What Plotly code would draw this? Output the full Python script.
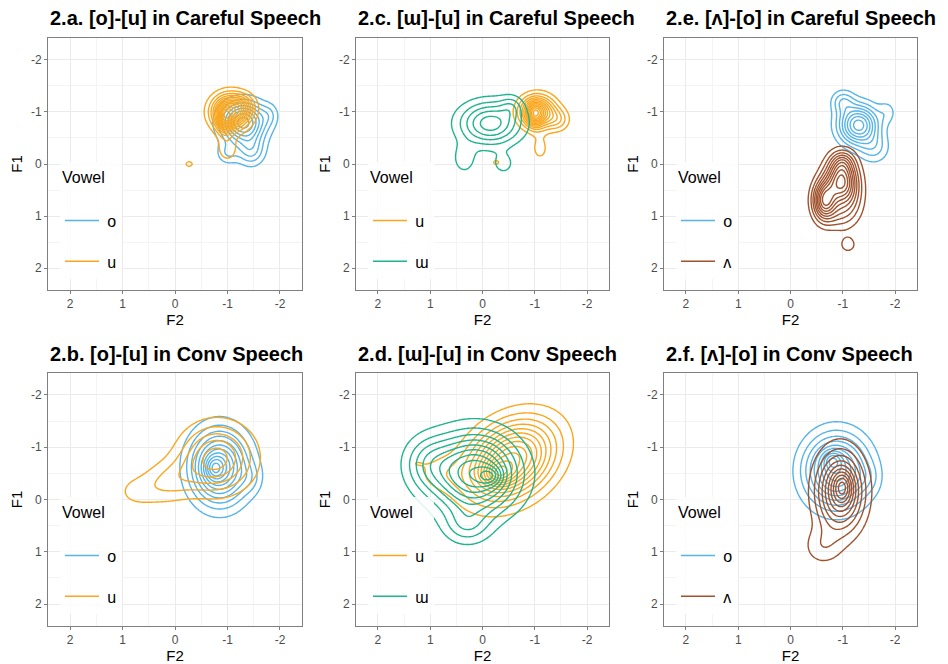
import numpy as np
import plotly.graph_objects as go

# ---------------- data ----------------
panel_titles = ["2.a. [o]-[u] in Careful Speech", "2.c. [ɯ]-[u] in Careful Speech",
                "2.e. [ʌ]-[o] in Careful Speech", "2.b. [o]-[u] in Conv Speech",
                "2.d. [ɯ]-[u] in Conv Speech", "2.f. [ʌ]-[o] in Conv Speech"]
panel_vowels = [["o", "u"], ["u", "ɯ"], ["o", "ʌ"], ["o", "u"], ["u", "ɯ"], ["o", "ʌ"]]
vowel_colors = {"o": "#56B4E9", "u": "#FBA61C", "ɯ": "#1FB48E", "ʌ": "#A0522D"}
tick_values = [-2, -1, 0, 1, 2]
tick_labels = ["-2", "-1", "0", "1", "2"]

# density components per panel/vowel: (F2 centre, F1 centre, sd F2, sd F1, corr, height)
o_a = [(-1.3, -0.8, 0.28, 0.26, 0.0, 1.0), (-1.45, -0.25, 0.18, 0.2, 0.0, 0.35),
       (-1.0, -0.2, 0.15, 0.15, 0.0, 0.2), (-1.8, -0.95, 0.12, 0.15, 0.0, 0.15)]
u_a = [(-1.05, -1.0, 0.23, 0.22, 0.0, 1.0), (-0.95, -0.85, 0.1, 0.18, 0.0, 0.5),
       (-1.3, -1.1, 0.15, 0.15, 0.0, 0.3), (-1.0, -0.3, 0.14, 0.18, 0.0, 0.17),
       (-0.27, 0.0, 0.08, 0.06, 0.0, 0.13)]
u_c = [(-1.05, -1.0, 0.22, 0.2, 0.0, 1.0), (-1.0, -0.95, 0.1, 0.15, 0.0, 0.4),
       (-1.45, -0.85, 0.15, 0.15, 0.0, 0.25), (-1.1, -0.3, 0.12, 0.18, 0.0, 0.15),
       (-0.26, -0.03, 0.08, 0.06, 0.0, 0.13)]
w_c = [(-0.15, -0.78, 0.4, 0.28, 0.0, 1.0), (0.35, -0.1, 0.15, 0.2, 0.0, 0.3),
       (-0.4, 0.0, 0.15, 0.15, 0.0, 0.25), (-0.55, -1.1, 0.15, 0.15, 0.0, 0.3)]
o_e = [(-1.3, -0.75, 0.25, 0.25, 0.0, 1.0), (-1.0, -1.2, 0.15, 0.15, 0.0, 0.3),
       (-1.6, -0.3, 0.2, 0.2, 0.0, 0.25), (-1.85, -1.0, 0.12, 0.15, 0.0, 0.15)]
v_e = [(-0.97, 0.3, 0.2, 0.28, 0.0, 1.0), (-0.65, 0.7, 0.15, 0.25, 0.0, 0.9),
       (-1.1, 0.7, 0.2, 0.3, 0.0, 0.3), (-0.9, 1.0, 0.2, 0.2, 0.0, 0.15),
       (-1.0, -0.05, 0.15, 0.15, 0.0, 0.25), (-1.1, 1.55, 0.12, 0.12, 0.0, 0.16)]
o_b = [(-0.85, -0.62, 0.36, 0.46, 0.0, 1.0), (-0.75, -0.6, 0.12, 0.15, 0.0, 0.3),
       (-1.45, -0.4, 0.15, 0.2, 0.0, 0.12)]
u_b = [(-0.8, -0.8, 0.45, 0.42, 0.0, 1.0), (0.1, -0.35, 0.45, 0.3, 0.3, 0.4),
       (0.8, -0.15, 0.25, 0.2, 0.0, 0.14)]
u_d = [(-0.55, -0.75, 0.55, 0.5, 0.3, 1.0), (-0.3, -0.5, 0.2, 0.15, 0.0, 0.35),
       (0.8, -0.5, 0.35, 0.25, 0.0, 0.12), (1.3, -0.7, 0.15, 0.08, 0.0, 0.06)]
w_d = [(0.15, -0.5, 0.55, 0.5, 0.0, 1.0), (-0.15, -0.45, 0.15, 0.12, 0.0, 0.3),
       (0.3, 0.5, 0.3, 0.25, 0.0, 0.25), (1.05, -0.7, 0.32, 0.35, 0.0, 0.27)]
o_f = [(-0.88, -0.55, 0.4, 0.45, 0.0, 1.0), (-0.8, -0.75, 0.12, 0.12, 0.0, 0.3),
       (-1.5, -0.4, 0.15, 0.2, 0.0, 0.1)]
v_f = [(-0.95, -0.15, 0.3, 0.5, 0.0, 1.0), (-1.0, -0.25, 0.12, 0.2, 0.0, 0.4),
       (-0.6, 0.9, 0.25, 0.25, 0.0, 0.2)]

panel_components = [[o_a, u_a], [u_c, w_c], [o_e, v_e], [o_b, u_b], [u_d, w_d], [o_f, v_f]]
panel_levels = [[8, 13], [12, 5], [8, 10], [11, 5], [12, 10], [10, 10]]

# ---------------- layout geometry ----------------
W, H = 948, 664
col_px = [(48, 302), (356, 609), (664, 917)]
row_px = [(38, 290), (373, 626)]
title_py = [18, 354]
legend_top_py = [162, 497]
FONT = "Liberation Sans, Arial, sans-serif"

gx = np.linspace(-3, 3, 241)
gy = np.linspace(-3, 3, 241)
GX, GY = np.meshgrid(gx, gy)


def density(comps):
    z = np.zeros_like(GX)
    for mx, my, sx, sy, r, a in comps:
        dx = (GX - mx) / sx
        dy = (GY - my) / sy
        q = (dx * dx - 2 * r * dx * dy + dy * dy) / (1 - r * r)
        z += a * np.exp(-0.5 * q)
    return z


fig = go.Figure()
layout = dict(width=W, height=H, margin=dict(l=0, r=0, t=0, b=0),
              paper_bgcolor="white", plot_bgcolor="white", showlegend=True,
              font=dict(family=FONT), annotations=[])

for p in range(6):
    row, col = divmod(p, 3)
    idx = "" if p == 0 else str(p + 1)
    x0, x1 = col_px[col]
    y0, y1 = row_px[row]
    xdom = [x0 / W, x1 / W]
    ydom = [1 - y1 / H, 1 - y0 / H]
    axis_common = dict(range=[2.42, -2.42], tickvals=tick_values, ticktext=tick_labels,
                       automargin=False,
                       showgrid=True, gridcolor="#EBEBEB", gridwidth=1.2,
                       minor=dict(tickvals=[-1.5, -0.5, 0.5, 1.5], showgrid=True,
                                  gridcolor="#F4F4F4", gridwidth=1),
                       zeroline=False, showline=True, mirror=True, linecolor="#7F7F7F",
                       linewidth=1, ticks="outside", ticklen=3, tickcolor="#7F7F7F",
                       tickfont=dict(size=12, color="#4D4D4D", family=FONT))
    layout["xaxis" + idx] = dict(axis_common, domain=xdom, anchor="y" + idx,
                                 title=dict(text="F2", font=dict(size=15, color="black"), standoff=2))
    layout["yaxis" + idx] = dict(axis_common, domain=ydom, anchor="x" + idx,
                                 title=dict(text="F1", font=dict(size=15, color="black"), standoff=4))
    layout["annotations"].append(dict(text="<b>" + panel_titles[p] + "</b>", xref="paper", yref="paper",
                                      x=x0 / W, y=1 - title_py[row] / H, xanchor="left", yanchor="middle",
                                      showarrow=False, font=dict(size=20, color="black", family=FONT)))
    leg = "legend" + idx
    layout[leg] = dict(x=(x0 + 12) / W, y=1 - legend_top_py[row] / H, xanchor="left", yanchor="top",
                       bgcolor="rgba(255,255,255,0.85)", borderwidth=0,
                       title=dict(text="Vowel<br><span style='font-size:9px'> </span>",
                                  font=dict(size=16, color="black", family=FONT)),
                       font=dict(size=16, color="black", family=FONT), tracegroupgap=17,
                       itemwidth=34, traceorder="grouped")
    for v, comps, nlev in zip(panel_vowels[p], panel_components[p], panel_levels[p]):
        z = density(comps)
        step = z.max() / (nlev + 0.6)
        c = vowel_colors[v]
        fig.add_trace(go.Contour(x=gx, y=gy, z=z, xaxis="x" + idx, yaxis="y" + idx,
                                 contours=dict(coloring="lines", start=step, end=step * nlev, size=step),
                                 colorscale=[[0, c], [1, c]], showscale=False,
                                 line=dict(width=1.4), showlegend=False, hoverinfo="skip"))
        fig.add_trace(go.Scatter(x=[None], y=[None], mode="lines", name="\u2009" + v,
                                 line=dict(color=c, width=1.6), legend=leg,
                                 legendgroup=leg + v, xaxis="x" + idx, yaxis="y" + idx))

fig.update_layout(**layout)
fig.write_html("out.html", config={"displayModeBar": False},
               post_script="document.body.style.margin='0';document.body.style.overflow='hidden';")
